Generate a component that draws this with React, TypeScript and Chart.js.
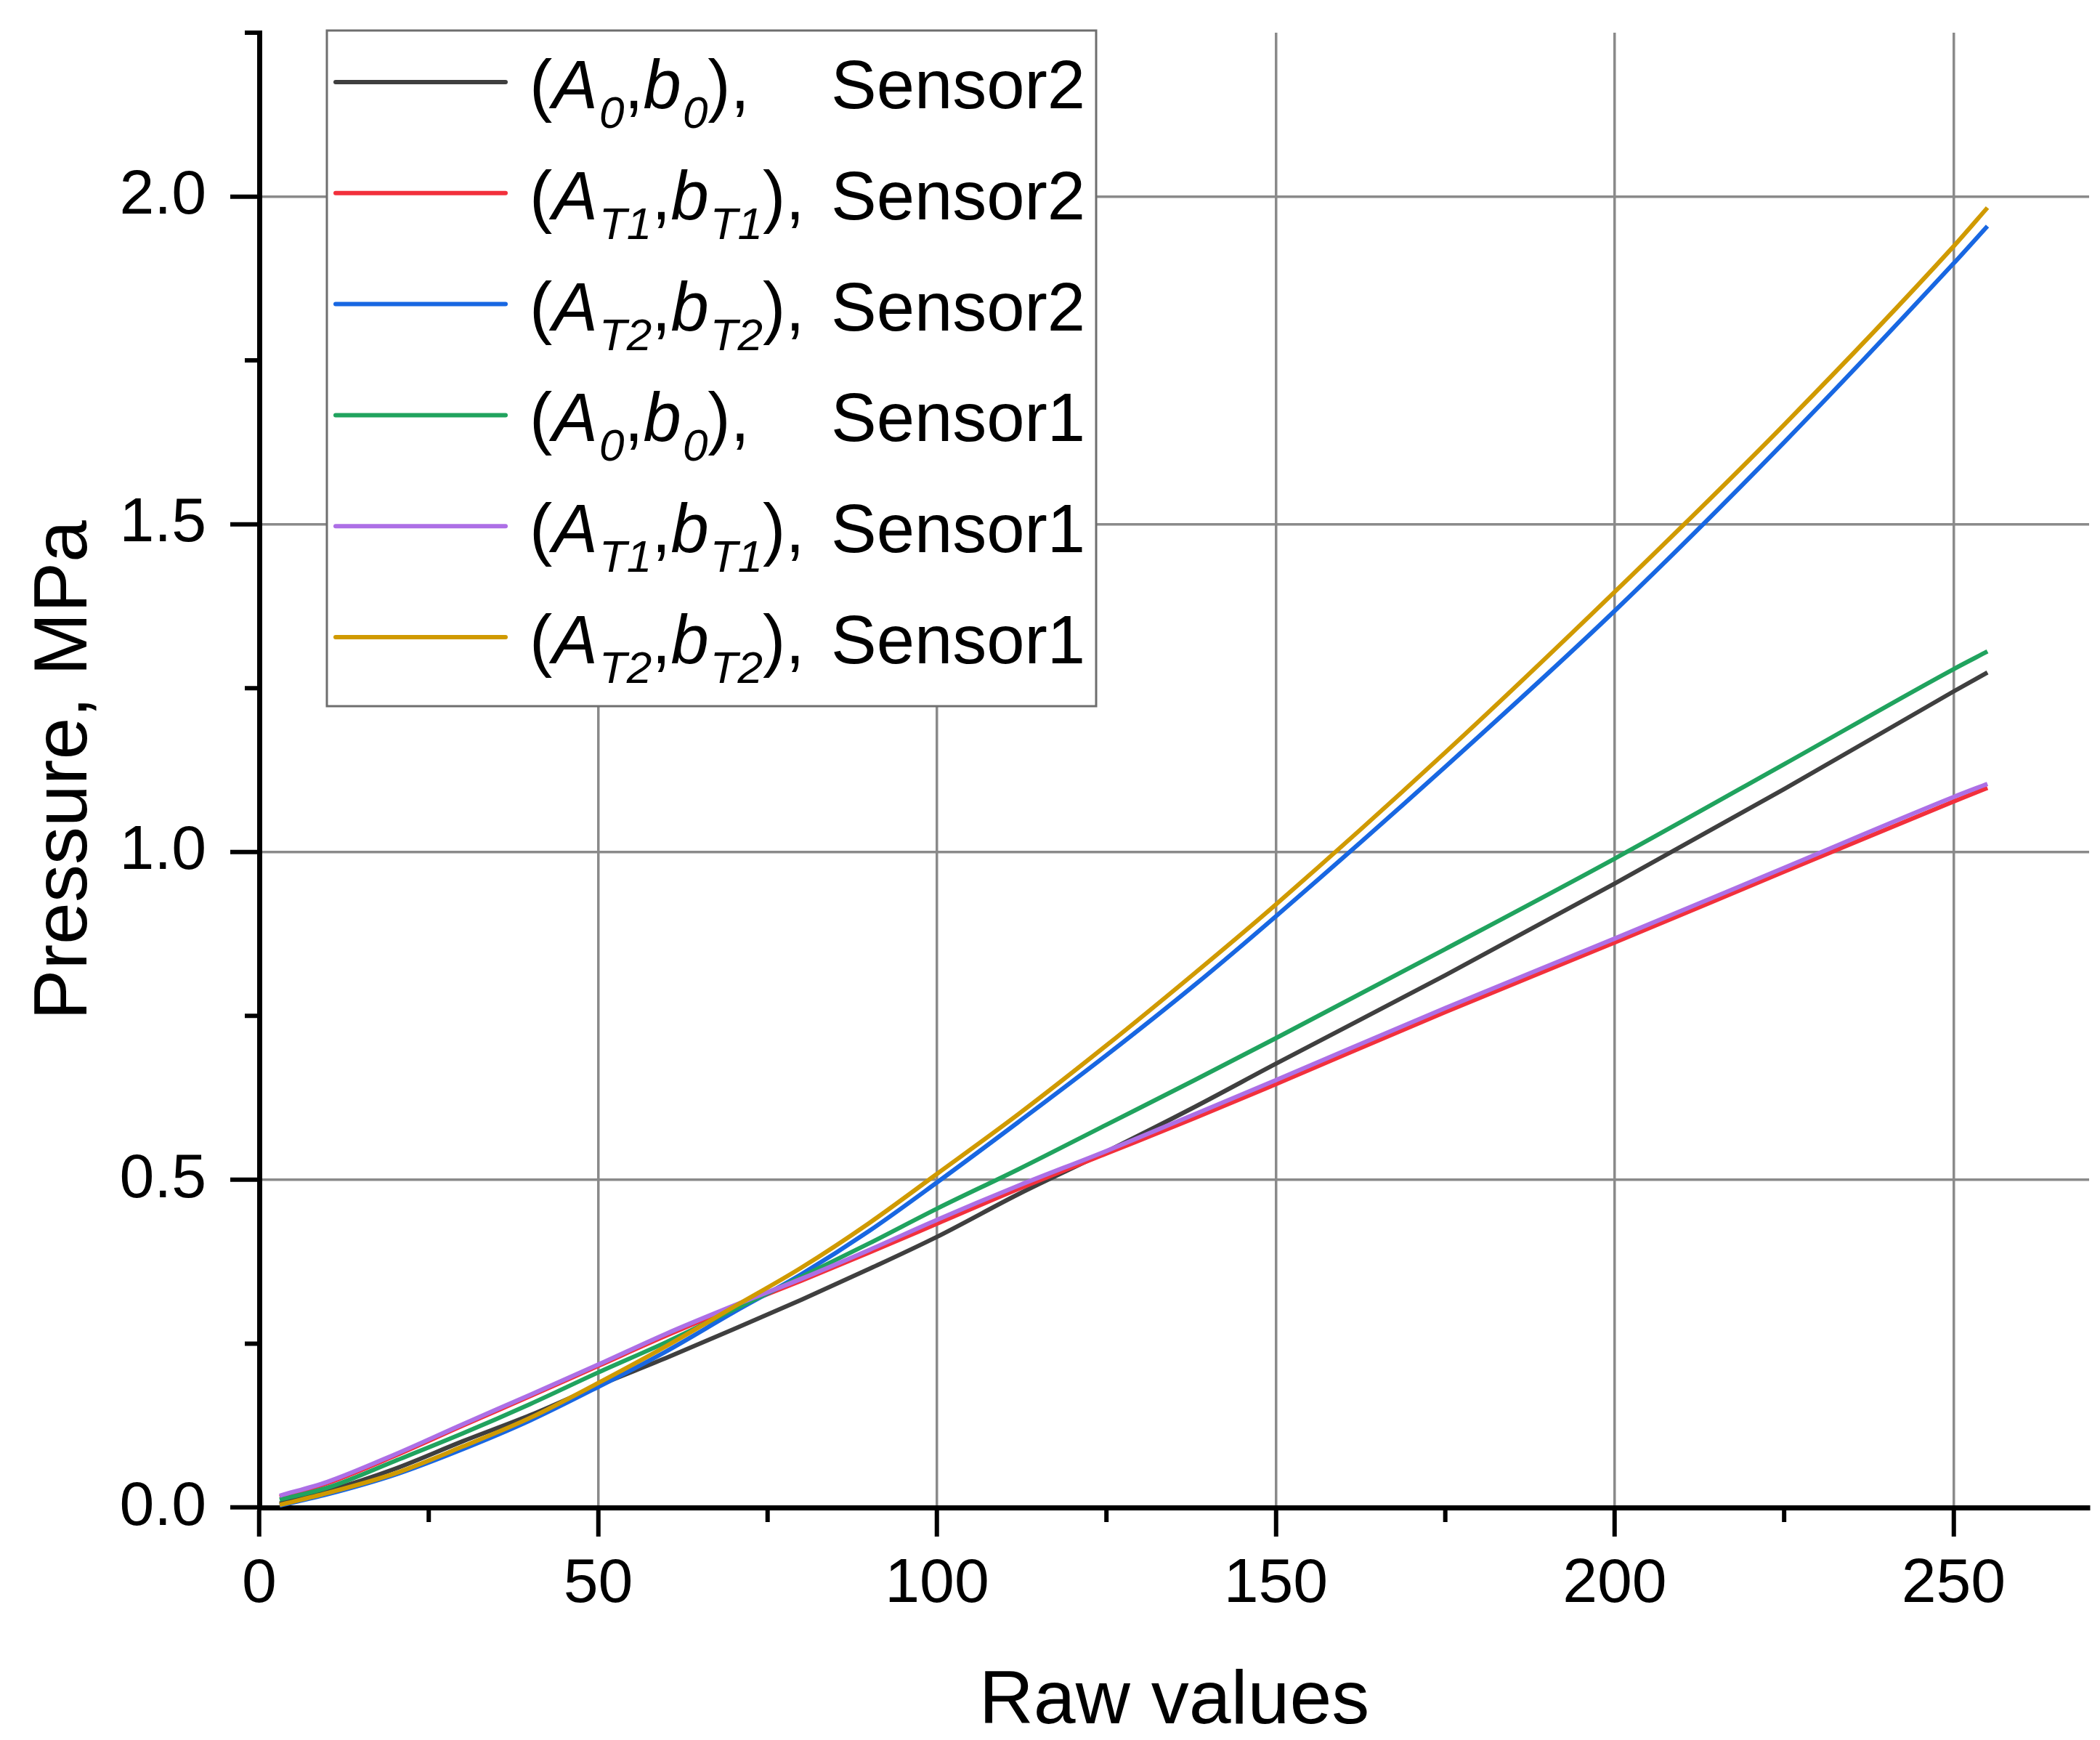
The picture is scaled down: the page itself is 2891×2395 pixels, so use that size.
import React, { useEffect, useRef } from 'react';
import { Chart, registerables } from 'chart.js';

Chart.register(...registerables);

// ---- data ----
const rawValues = [3, 10, 20, 30, 40, 50, 60, 70, 80, 90, 100, 112, 125, 138, 150, 175, 200, 225, 250, 255];

const sensor2A0 = [0.006, 0.025, 0.059, 0.101, 0.141, 0.186, 0.228, 0.272, 0.317, 0.364, 0.413, 0.478, 0.543, 0.611, 0.677, 0.812, 0.952, 1.096, 1.245, 1.274];
const sensor2T1 = [0.016, 0.037, 0.079, 0.125, 0.170, 0.216, 0.262, 0.305, 0.346, 0.389, 0.433, 0.486, 0.540, 0.594, 0.646, 0.756, 0.862, 0.970, 1.077, 1.098];
const sensor2T2 = [0.003, 0.020, 0.050, 0.089, 0.133, 0.184, 0.238, 0.298, 0.356, 0.422, 0.496, 0.588, 0.690, 0.797, 0.902, 1.130, 1.368, 1.625, 1.898, 1.955];
const sensor1A0 = [0.012, 0.030, 0.071, 0.113, 0.158, 0.206, 0.252, 0.302, 0.352, 0.403, 0.456, 0.516, 0.584, 0.652, 0.716, 0.852, 0.990, 1.134, 1.279, 1.306];
const sensor1T1 = [0.018, 0.039, 0.081, 0.127, 0.172, 0.218, 0.265, 0.308, 0.349, 0.393, 0.439, 0.491, 0.544, 0.600, 0.652, 0.762, 0.868, 0.976, 1.084, 1.104];
const sensor1T2 = [0.004, 0.022, 0.052, 0.093, 0.137, 0.190, 0.246, 0.306, 0.366, 0.434, 0.509, 0.600, 0.705, 0.815, 0.920, 1.152, 1.397, 1.652, 1.924, 1.983];

const seriesValues = [sensor2A0, sensor2T1, sensor2T2, sensor1A0, sensor1T1, sensor1T2];
const seriesColors = ['#3f3f3f', '#f2303c', '#1867e2', '#20a35e', '#ad6fe6', '#d09a00'];
const seriesSubs = ['0', 'T1', 'T2', '0', 'T1', 'T2'];
const seriesSensors = ['Sensor2', 'Sensor2', 'Sensor2', 'Sensor1', 'Sensor1', 'Sensor1'];

const xMajorTicks = [0, 50, 100, 150, 200, 250];
const xMinorTicks = [25, 75, 125, 175, 225];
const yMajorTicks = [0, 0.5, 1.0, 1.5, 2.0];
const yMinorTicks = [0.25, 0.75, 1.25, 1.75, 2.25];

const xTitle = 'Raw values';
const yTitle = 'Pressure, MPa';

const FAMILY = '"Liberation Sans", Arial, Helvetica, sans-serif';

const minorTicksPlugin = {
  id: 'minorTicks',
  afterDraw(chart: any) {
    const { ctx, chartArea: ca } = chart;
    const xs = chart.scales.x;
    const ys = chart.scales.y;
    ctx.save();
    ctx.strokeStyle = '#000';
    ctx.lineWidth = 6;
    ctx.beginPath();
    xMinorTicks.forEach((v) => {
      const px = xs.getPixelForValue(v);
      ctx.moveTo(px, ca.bottom);
      ctx.lineTo(px, ca.bottom + 20);
    });
    yMinorTicks.forEach((v) => {
      const py = ys.getPixelForValue(v);
      ctx.moveTo(ca.left, py);
      ctx.lineTo(ca.left - 20, py);
    });
    ctx.stroke();
    ctx.restore();
  },
};

const legendPlugin = {
  id: 'customLegend',
  afterDraw(chart: any) {
    const { ctx, chartArea: ca } = chart;
    const bx = ca.left + 93;
    const by = ca.top - 3;
    const bw = 1059;
    const bh = 930;
    ctx.save();
    ctx.fillStyle = '#ffffff';
    ctx.fillRect(bx, by, bw, bh);
    ctx.strokeStyle = '#6e6e6e';
    ctx.lineWidth = 3;
    ctx.strokeRect(bx, by, bw, bh);

    const main = 94;
    const sub = 62;
    const fNormal = `${main}px ${FAMILY}`;
    const fItalic = `italic ${main}px ${FAMILY}`;
    const fSub = `italic ${sub}px ${FAMILY}`;

    chart.data.datasets.forEach((ds: any, i: number) => {
      const cy = by + 71 + i * 152.8;
      ctx.strokeStyle = ds.borderColor;
      ctx.lineWidth = 6;
      ctx.lineCap = 'round';
      ctx.beginPath();
      ctx.moveTo(bx + 12, cy);
      ctx.lineTo(bx + 246, cy);
      ctx.stroke();

      const base = cy + 36;
      ctx.fillStyle = '#000';
      ctx.textBaseline = 'alphabetic';
      ctx.textAlign = 'left';
      let x = bx + 279;
      const put = (t: string, font: string, dy: number, extra = 0) => {
        ctx.font = font;
        ctx.fillText(t, x, base + dy);
        x += ctx.measureText(t).width + extra;
      };
      const s = seriesSubs[i];
      put('(', fNormal, 0);
      put('A', fItalic, 0, 2);
      put(s, fSub, 27);
      put(',', fNormal, 0);
      put('b', fItalic, 0, 2);
      put(s, fSub, 27);
      put('),', fNormal, 0);
      ctx.font = fNormal;
      ctx.fillText(seriesSensors[i], bx + 694, base);
    });
    ctx.restore();
  },
};

export default function App() {
  const canvasRef = useRef<HTMLCanvasElement | null>(null);

  useEffect(() => {
    const canvas = canvasRef.current;
    if (!canvas) return;
    const datasets = seriesValues.map((vals, i) => ({
      label: `${seriesSubs[i]} ${seriesSensors[i]}`,
      data: rawValues.map((x, j) => ({ x, y: vals[j] })),
      borderColor: seriesColors[i],
      backgroundColor: seriesColors[i],
      borderWidth: 6,
      pointRadius: 0,
      cubicInterpolationMode: 'monotone' as const,
      fill: false,
      order: seriesValues.length - 1 - i,
    }));

    const chart = new Chart(canvas, {
      type: 'line',
      data: { datasets },
      options: {
        animation: false,
        responsive: false,
        devicePixelRatio: 1,
        layout: { padding: { left: 0, top: 45, right: 15, bottom: 0 } },
        plugins: { legend: { display: false }, tooltip: { enabled: false } },
        scales: {
          x: {
            type: 'linear',
            position: 'bottom',
            min: 0,
            max: 270,
            afterBuildTicks: (s: any) => {
              s.ticks = xMajorTicks.map((v) => ({ value: v }));
            },
            afterFit: (s: any) => {
              s.height = 320;
              s.paddingLeft = 0;
              s.paddingRight = 0;
            },
            ticks: {
              autoSkip: false,
              maxRotation: 0,
              color: '#000',
              padding: 15,
              font: { family: FAMILY, size: 86 },
              callback: (v: any) => String(v),
            },
            grid: {
              color: '#8a8a8a',
              lineWidth: 3.5,
              tickLength: 40,
              tickColor: '#000',
              tickWidth: 6,
            },
            border: { color: '#000', width: 7 },
            title: {
              display: true,
              text: xTitle,
              color: '#000',
              font: { family: FAMILY, size: 104 },
              padding: { top: 0, bottom: -11 },
            },
          },
          y: {
            type: 'linear',
            position: 'left',
            min: 0,
            max: 2.25,
            afterBuildTicks: (s: any) => {
              s.ticks = yMajorTicks.map((v) => ({ value: v }));
            },
            afterFit: (s: any) => {
              s.width = 357;
              s.paddingTop = 0;
              s.paddingBottom = 0;
            },
            ticks: {
              autoSkip: false,
              color: '#000',
              padding: 33,
              font: { family: FAMILY, size: 86 },
              callback: (v: any) => Number(v).toFixed(1),
            },
            grid: {
              color: '#8a8a8a',
              lineWidth: 3.5,
              tickLength: 40,
              tickColor: '#000',
              tickWidth: 6,
            },
            border: { color: '#000', width: 7 },
            title: {
              display: true,
              text: yTitle,
              color: '#000',
              font: { family: FAMILY, size: 104 },
              padding: { top: 28, bottom: 0 },
            },
          },
        },
      },
      plugins: [minorTicksPlugin, legendPlugin],
    });

    return () => chart.destroy();
  }, []);

  return (
    <div style={{ position: 'fixed', left: 0, top: 0, width: 2891, height: 2395, background: '#fff' }}>
      <canvas ref={canvasRef} width={2891} height={2395} style={{ display: 'block', width: 2891, height: 2395 }} />
    </div>
  );
}
